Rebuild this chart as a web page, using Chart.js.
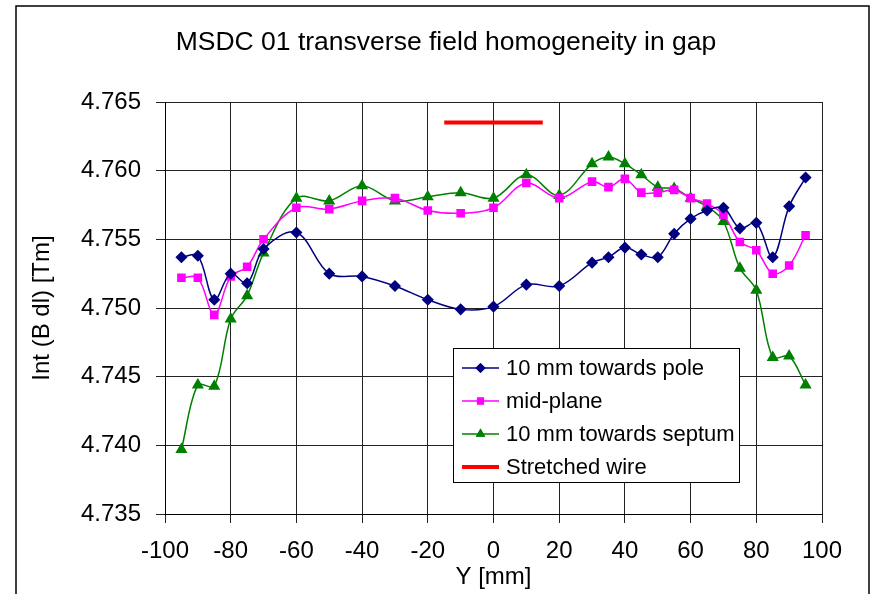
<!DOCTYPE html>
<html>
<head>
<meta charset="utf-8">
<script src="https://cdn.jsdelivr.net/npm/chart.js@4"></script>
<style>
  html, body { margin: 0; padding: 0; background: #ffffff; }
  #wrap { width: 872px; height: 594px; }
</style>
</head>
<body>
<div id="wrap"><canvas id="chart" width="872" height="594"></canvas></div>
<script>
// positions across the gap [mm]
const positions = [-95, -90, -85, -80, -75, -70, -60, -50, -40, -30, -20, -10, 0, 10, 20,
  30, 35, 40, 45, 50, 55, 60, 65, 70, 75, 80, 85, 90, 95];

const towardsPole = [4.7537, 4.7538, 4.7506, 4.7525, 4.7518, 4.7543, 4.7555, 4.7525, 4.7523,
  4.7516, 4.7506, 4.7499, 4.7501, 4.7517, 4.7516, 4.7533, 4.7537, 4.7544, 4.7539, 4.7537,
  4.7554, 4.7565, 4.7571, 4.7573, 4.7558, 4.7562, 4.7537, 4.7574, 4.7595];

const midPlane = [4.7522, 4.7522, 4.7495, 4.7523, 4.7530, 4.7550, 4.7573, 4.7572, 4.7578,
  4.7580, 4.7571, 4.7569, 4.7573, 4.7591, 4.7580, 4.7592, 4.7588, 4.7594, 4.7584, 4.7584,
  4.7586, 4.7580, 4.7576, 4.7568, 4.7548, 4.7542, 4.7525, 4.7531, 4.7553];

const towardsSeptum = [4.7397, 4.7444, 4.7443, 4.7492, 4.7509, 4.7540, 4.7580, 4.7578, 4.7589,
  4.7578, 4.7581, 4.7584, 4.7580, 4.7597, 4.7582, 4.7605, 4.7610, 4.7605, 4.7597, 4.7588,
  4.7587, 4.7580, 4.7574, 4.7563, 4.7529, 4.7513, 4.7464, 4.7465, 4.7444];

const wirePositions = [-15, 15];
const wireValue = [4.7635, 4.7635];

const seriesLabels = ["10 mm towards pole", "mid-plane", "10 mm towards septum", "Stretched wire"];

const toPoints = (xs, ys) => xs.map((x, i) => ({ x, y: ys[i] }));

const FONT = "'Liberation Sans', Arial, sans-serif";
const GRID = "#222222";

// Excel-like frame, title and the boxed legend inside the plot
const decorations = {
  id: "decorations",
  beforeDraw(chart) {
    const { ctx } = chart;
    ctx.save();
    ctx.fillStyle = "#ffffff";
    ctx.fillRect(0, 0, chart.width, chart.height);
    ctx.strokeStyle = "#000000";
    ctx.lineWidth = 1.5;
    ctx.strokeRect(16, 6, 853, 620);
    ctx.restore();
  },
  afterDraw(chart) {
    const { ctx } = chart;
    ctx.save();
    ctx.fillStyle = "#000000";
    ctx.font = `26.5px ${FONT}`;
    ctx.textAlign = "center";
    ctx.textBaseline = "middle";
    ctx.fillText("MSDC 01 transverse field homogeneity in gap", 446, 43);

    // legend
    const box = { x: 453, y: 348, w: 286, h: 134 };
    ctx.fillStyle = "#ffffff";
    ctx.fillRect(box.x, box.y, box.w, box.h);
    ctx.strokeStyle = "#000000";
    ctx.lineWidth = 1;
    ctx.strokeRect(box.x + 0.5, box.y + 0.5, box.w, box.h);

    chart.data.datasets.forEach((ds, i) => {
      const cy = box.y + 20 + i * 33;
      ctx.strokeStyle = ds.borderColor;
      ctx.lineWidth = i === 3 ? 4 : 1.5;
      ctx.beginPath();
      ctx.moveTo(462, cy);
      ctx.lineTo(499, cy);
      ctx.stroke();
      if (ds.pointStyle) {
        ctx.fillStyle = ds.pointBackgroundColor;
        Chart.helpers.drawPoint(ctx, {
          pointStyle: ds.pointStyle,
          radius: ds.pointRadius,
          borderWidth: 0,
          rotation: 0
        }, 480.5, cy);
        ctx.fill();
      }
      ctx.fillStyle = "#000000";
      ctx.font = `22px ${FONT}`;
      ctx.textAlign = "left";
      ctx.textBaseline = "middle";
      ctx.fillText(ds.label, 506, cy + 1);
    });
    ctx.restore();
  }
};

new Chart(document.getElementById("chart"), {
  type: "line",
  data: {
    datasets: [
      {
        label: seriesLabels[0],
        data: toPoints(positions, towardsPole),
        borderColor: "#000080",
        backgroundColor: "#000080",
        pointBackgroundColor: "#000080",
        pointBorderColor: "#000080",
        pointStyle: "rectRot",
        pointRadius: 5,
        borderWidth: 1.5,
        tension: 0.35
      },
      {
        label: seriesLabels[1],
        data: toPoints(positions, midPlane),
        borderColor: "#ff00ff",
        backgroundColor: "#ff00ff",
        pointBackgroundColor: "#ff00ff",
        pointBorderColor: "#ff00ff",
        pointStyle: "rect",
        pointRadius: 5,
        borderWidth: 1.5,
        tension: 0.35
      },
      {
        label: seriesLabels[2],
        data: toPoints(positions, towardsSeptum),
        borderColor: "#008000",
        backgroundColor: "#008000",
        pointBackgroundColor: "#008000",
        pointBorderColor: "#008000",
        pointStyle: "triangle",
        pointRadius: 5.5,
        borderWidth: 1.5,
        tension: 0.35
      },
      {
        label: seriesLabels[3],
        data: toPoints(wirePositions, wireValue),
        borderColor: "#ff0000",
        backgroundColor: "#ff0000",
        pointRadius: 0,
        pointStyle: false,
        borderWidth: 4,
        tension: 0
      }
    ]
  },
  options: {
    responsive: false,
    animation: false,
    events: [],
    layout: { padding: { top: 102, right: 50, left: 0, bottom: 0 } },
    plugins: {
      legend: { display: false },
      tooltip: { enabled: false },
      title: { display: false }
    },
    scales: {
      x: {
        type: "linear",
        min: -100,
        max: 100,
        afterFit: (scale) => { scale.height = 80; },
        ticks: {
          stepSize: 20,
          color: "#000000",
          padding: 14,
          font: { family: FONT, size: 24, lineHeight: 1.2 }
        },
        grid: { color: GRID, lineWidth: 1, tickLength: 9, tickColor: GRID },
        border: { color: "#000000", width: 1 },
        title: {
          display: true,
          text: "Y [mm]",
          color: "#000000",
          padding: { top: 0, bottom: 2 },
          font: { family: FONT, size: 24, lineHeight: 1.2 }
        }
      },
      y: {
        min: 4.735,
        max: 4.765,
        afterFit: (scale) => { scale.width = 165; },
        ticks: {
          stepSize: 0.005,
          color: "#000000",
          padding: 15,
          callback: (v) => v.toFixed(3),
          font: { family: FONT, size: 24, lineHeight: 1.2 }
        },
        grid: { color: GRID, lineWidth: 1, tickLength: 9, tickColor: GRID },
        border: { color: "#000000", width: 1 },
        title: {
          display: true,
          text: "Int (B dl) [Tm]",
          color: "#000000",
          padding: { top: 28, bottom: 0 },
          font: { family: FONT, size: 24, lineHeight: 1.2 }
        }
      }
    }
  },
  plugins: [decorations]
});
</script>
</body>
</html>
